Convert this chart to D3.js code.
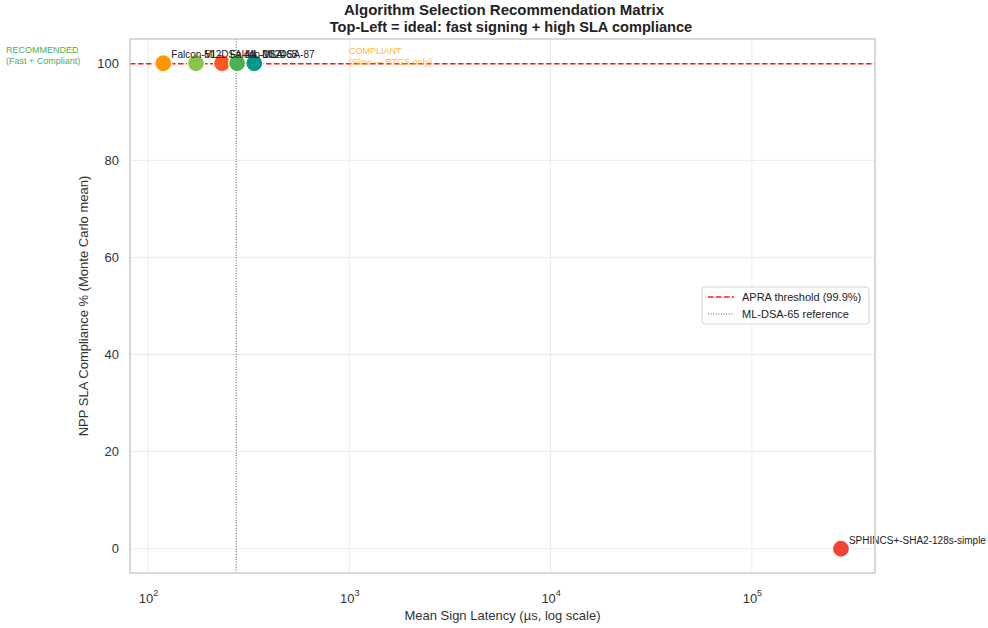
<!DOCTYPE html>
<html>
<head>
<meta charset="utf-8">
<script src="https://cdn.jsdelivr.net/npm/d3@7"></script>
<style>
  html, body { margin: 0; padding: 0; background: #fff; }
  svg { display: block; font-family: "Liberation Sans", Arial, sans-serif; }
</style>
</head>
<body>
<svg id="chart" width="988" height="628"></svg>
<script>
// Algorithms, mean signing latency (µs) and NPP SLA compliance (%)
const algorithms = ["Falcon-512", "ML-DSA-44", "Falcon-1024", "ML-DSA-65", "ML-DSA-87", "SPHINCS+-SHA2-128s-simple"];
const latencyUs = [119, 173, 233, 277, 337, 277000];
const compliance = [100, 100, 100, 100, 100, 0];
const colors = ["#FF9800", "#8BC34A", "#FF5722", "#4CAF50", "#009688", "#F44336"];

const apraThreshold = 99.9;
const referenceLatency = 274;   // ML-DSA-65
const yTicks = [0, 20, 40, 60, 80, 100];
const xTicks = [100, 1000, 10000, 100000];
const xExponents = ["2", "3", "4", "5"];

const svg = d3.select("#chart");
const m = { left: 130, right: 875, top: 39, bottom: 573 };

const x = d3.scaleLog().domain([81.3, 409000]).range([m.left, m.right]);
const y = d3.scaleLinear().domain([-5, 105]).range([m.bottom, m.top]);

// Title
svg.append("text").attr("x", 504).attr("y", 15).attr("text-anchor", "middle")
  .attr("font-size", 15).attr("font-weight", "bold").attr("fill", "#222")
  .text("Algorithm Selection Recommendation Matrix");
svg.append("text").attr("x", 511).attr("y", 32).attr("text-anchor", "middle")
  .attr("font-size", 14.6).attr("font-weight", "bold").attr("fill", "#222")
  .text("Top-Left = ideal: fast signing + high SLA compliance");

// Grid
const grid = svg.append("g").attr("stroke", "#ebebeb").attr("stroke-width", 1);
grid.selectAll(".gx").data(xTicks).join("line")
  .attr("x1", d => x(d)).attr("x2", d => x(d)).attr("y1", m.top).attr("y2", m.bottom);
grid.selectAll(".gy").data(yTicks).join("line")
  .attr("y1", d => y(d)).attr("y2", d => y(d)).attr("x1", m.left).attr("x2", m.right);

// Axes (tick labels only, styled like seaborn whitegrid)
const xAxis = svg.append("g").attr("transform", `translate(0,${m.bottom})`)
  .call(d3.axisBottom(x).tickValues(xTicks).tickSize(0).tickFormat(() => ""));
xAxis.select(".domain").remove();
xAxis.selectAll(".tick").each(function(d, i) {
  const t = d3.select(this).append("text").attr("y", 30).attr("fill", "#333")
    .attr("font-size", 13).attr("text-anchor", "middle");
  t.append("tspan").text("10");
  t.append("tspan").attr("dy", -7).attr("font-size", 9).text(xExponents[i]);
});

const yAxis = svg.append("g").attr("transform", `translate(${m.left},0)`)
  .call(d3.axisLeft(y).tickValues(yTicks).tickSize(0).tickPadding(11));
yAxis.select(".domain").remove();
yAxis.selectAll("text").attr("font-size", 13).attr("fill", "#333")
  .attr("font-family", "Liberation Sans, Arial, sans-serif");

// Axis labels
svg.append("text").attr("x", (m.left + m.right) / 2).attr("y", 620).attr("text-anchor", "middle")
  .attr("font-size", 13).attr("fill", "#333").text("Mean Sign Latency (µs, log scale)");
svg.append("text").attr("transform", `translate(88,${(m.top + m.bottom) / 2}) rotate(-90)`)
  .attr("text-anchor", "middle").attr("font-size", 13).attr("fill", "#333")
  .text("NPP SLA Compliance % (Monte Carlo mean)");

// Reference lines
svg.append("line").attr("x1", m.left).attr("x2", m.right)
  .attr("y1", y(apraThreshold)).attr("y2", y(apraThreshold))
  .attr("stroke", "#ff1a1a").attr("stroke-width", 1.5).attr("stroke-dasharray", "5.5,2.5");
svg.append("line").attr("x1", x(referenceLatency)).attr("x2", x(referenceLatency))
  .attr("y1", m.top).attr("y2", m.bottom)
  .attr("stroke", "#555").attr("stroke-width", 1).attr("stroke-dasharray", "1,1.6");

// Region annotations
const rec = svg.append("text").attr("font-size", 9).attr("fill", "#4CAF50");
rec.append("tspan").attr("x", 6).attr("y", 53).text("RECOMMENDED");
rec.append("tspan").attr("x", 6).attr("y", 64).text("(Fast + Compliant)");
const slow = svg.append("text").attr("font-size", 9).attr("fill", "#FFB74D");
slow.append("tspan").attr("x", 349).attr("y", 54).text("COMPLIANT");
slow.append("tspan").attr("x", 349).attr("y", 65).text("(Slow — RTGS only)");

// Points
const pts = algorithms.map((a, i) => ({ name: a, lat: latencyUs[i], comp: compliance[i], color: colors[i] }));
svg.append("g").selectAll("circle").data(pts).join("circle")
  .attr("cx", d => x(d.lat)).attr("cy", d => y(d.comp)).attr("r", 8.5)
  .attr("fill", d => d.color).attr("stroke", "#fff").attr("stroke-width", 1.2);

svg.append("g").selectAll("text").data(pts).join("text")
  .attr("x", d => x(d.lat) + 8).attr("y", d => y(d.comp) - 5)
  .attr("font-size", 10).attr("fill", "#222").text(d => d.name);

// Frame
svg.append("rect").attr("x", m.left).attr("y", m.top)
  .attr("width", m.right - m.left).attr("height", m.bottom - m.top)
  .attr("fill", "none").attr("stroke", "#cccccc").attr("stroke-width", 1.5);

// Legend
const lg = svg.append("g").attr("transform", "translate(702,287)");
lg.append("rect").attr("width", 167).attr("height", 37).attr("rx", 3)
  .attr("fill", "#fff").attr("stroke", "#d5d5d5");
lg.append("line").attr("x1", 6).attr("x2", 32).attr("y1", 10).attr("y2", 10)
  .attr("stroke", "#ff1a1a").attr("stroke-width", 1.5).attr("stroke-dasharray", "5.5,2.5");
lg.append("text").attr("x", 40).attr("y", 14).attr("font-size", 11).attr("fill", "#222")
  .text("APRA threshold (99.9%)");
lg.append("line").attr("x1", 6).attr("x2", 32).attr("y1", 27).attr("y2", 27)
  .attr("stroke", "#555").attr("stroke-width", 1).attr("stroke-dasharray", "1,1.6");
lg.append("text").attr("x", 40).attr("y", 31).attr("font-size", 11).attr("fill", "#222")
  .text("ML-DSA-65 reference");
</script>
</body>
</html>
